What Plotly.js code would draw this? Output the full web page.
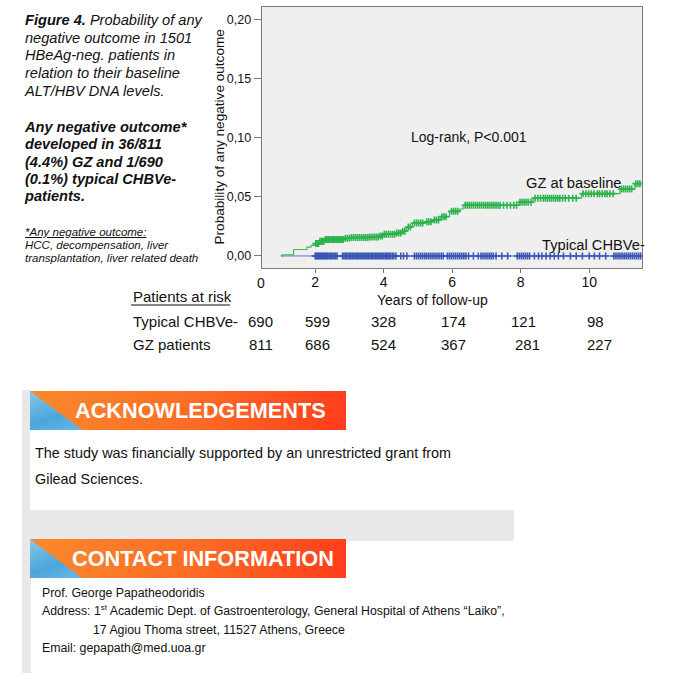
<!DOCTYPE html>
<html>
<head>
<meta charset="utf-8">
<script src="https://cdn.plot.ly/plotly-3.0.1.min.js"></script>
<style>
  html,body{margin:0;padding:0;background:#fff;}
  body{width:677px;height:686px;position:relative;overflow:hidden;font-family:"Liberation Sans",Arial,sans-serif;color:#111;}
  #chart{position:absolute;left:0;top:0;width:677px;height:686px;}
  .abs{position:absolute;}
  .banner{position:absolute;left:30px;width:316px;height:39px;overflow:hidden;
    background:linear-gradient(100deg,#f98a2b 0%,#fb6a25 55%,#ff3c1b 100%);}
  .banner .tri{position:absolute;left:0;top:0;width:52px;height:39px;
    background:linear-gradient(160deg,#8cc6e4 0%,#4aa6dc 60%,#6ab8e8 100%);
    clip-path:polygon(0 0,0 100%,100% 100%);}
  .banner .txt{position:absolute;top:0;height:39px;line-height:39px;color:#fff;font-weight:bold;font-size:21.7px;white-space:nowrap;}
</style>
</head>
<body>
<div id="chart"></div>

<div class="abs" style="left:25px;top:12px;font-style:italic;font-size:14.6px;line-height:17.7px;white-space:nowrap;">
<b>Figure 4.</b> Probability of any<br>negative outcome in 1501<br>HBeAg-neg. patients in<br>relation to their baseline<br>ALT/HBV DNA levels.
</div>
<div class="abs" style="left:25px;top:119px;font-style:italic;font-weight:bold;font-size:14.6px;line-height:17.3px;white-space:nowrap;">
Any negative outcome*<br>developed in 36/811<br>(4.4%) GZ and 1/690<br>(0.1%) typical CHBVe-<br>patients.
</div>
<div class="abs" style="left:25px;top:226px;font-style:italic;font-size:11.5px;line-height:13px;white-space:nowrap;">
<span style="text-decoration:underline">*Any negative outcome:</span><br>HCC, decompensation, liver<br>transplantation, liver related death
</div>

<!-- Acknowledgements block -->
<div class="abs" style="left:22px;top:390px;width:492px;height:151px;background:#e8e8e8;"></div>
<div class="abs" style="left:30px;top:390px;width:484px;height:120px;background:#fff;"></div>
<div class="abs" style="left:22px;top:541px;width:9px;height:132px;background:#e8e8e8;"></div>
<div class="banner" style="top:391px;"><div class="tri"></div><div class="txt" style="left:45px;">ACKNOWLEDGEMENTS</div></div>
<div class="abs" style="left:35px;top:440px;font-size:14.4px;line-height:26px;white-space:nowrap;">
The study was financially supported by an unrestricted grant from<br>Gilead Sciences.
</div>

<!-- Contact block -->
<div class="banner" style="top:539px;"><div class="tri"></div><div class="txt" style="left:42px;">CONTACT INFORMATION</div></div>
<div class="abs" style="left:42px;top:584px;font-size:12.3px;line-height:18.3px;white-space:nowrap;">
Prof. George Papatheodoridis<br>
Address: 1<sup style="font-size:8px;line-height:0;">st</sup> Academic Dept. of Gastroenterology, General Hospital of Athens “Laiko”,<br>
<span style="padding-left:51px;">17 Agiou Thoma street, 11527 Athens, Greece</span><br>
Email: gepapath@med.uoa.gr
</div>

<script>
// ---- data ----
const gzTime = [1.00,1.04,1.37,1.76,1.88,2.00,2.12,2.28,2.85,3.05,3.55,3.85,4.00,4.35,4.55,4.67,4.84,5.20,5.42,5.65,5.92,6.22,6.32,7.95,8.36,9.77,10.90,11.33,11.54];
const gzProb = [0,0.001,0.0055,0.0075,0.009,0.0105,0.0125,0.014,0.015,0.0157,0.016,0.017,0.0185,0.0195,0.021,0.0245,0.028,0.029,0.0305,0.0333,0.0378,0.0398,0.043,0.0455,0.049,0.0528,0.0568,0.0613,0.0613];
const gzCensor = [2.02,2.06,2.10,2.14,2.18,2.22,2.26,2.30,2.34,2.38,2.42,2.46,2.50,2.54,2.58,2.62,2.66,2.70,2.74,2.78,2.82,2.88,2.94,3.00,3.06,3.12,3.18,3.24,3.30,3.36,3.42,3.48,3.54,3.60,3.66,3.72,3.78,3.84,3.90,3.96,4.02,4.08,4.14,4.20,4.26,4.32,4.38,4.44,4.50,4.56,4.62,4.72,4.78,4.90,4.96,5.02,5.08,5.14,5.26,5.32,5.38,5.48,5.54,5.60,5.70,5.76,5.82,5.98,6.04,6.10,6.16,6.38,6.44,6.50,6.56,6.62,6.68,6.74,6.80,6.86,6.92,6.98,7.04,7.10,7.16,7.22,7.28,7.34,7.40,7.50,7.60,7.70,7.80,7.88,7.98,8.04,8.10,8.16,8.22,8.30,8.42,8.50,8.58,8.66,8.72,8.78,8.84,8.90,8.96,9.02,9.08,9.14,9.22,9.30,9.40,9.52,9.62,9.82,9.90,9.98,10.06,10.14,10.24,10.30,10.38,10.46,10.52,10.60,10.70,10.94,11.00,11.06,11.12,11.18,11.24,11.36,11.42,11.48];

const typTime = [1.00,11.54];
const typProb = [0,0];
const typCensor = [2.00,2.03,2.06,2.09,2.12,2.15,2.18,2.21,2.24,2.27,2.30,2.33,2.36,2.40,2.44,2.48,2.52,2.56,2.60,2.64,2.80,2.84,2.88,2.92,2.96,3.00,3.04,3.08,3.12,3.16,3.20,3.24,3.28,3.32,3.36,3.40,3.44,3.48,3.52,3.56,3.60,3.64,3.68,3.72,3.76,3.80,3.84,3.88,3.92,3.96,4.00,4.04,4.08,4.12,4.16,4.20,4.25,4.30,4.36,4.50,4.58,4.68,4.90,4.96,5.02,5.08,5.14,5.20,5.26,5.32,5.38,5.44,5.50,5.56,5.62,5.68,5.74,5.86,5.92,5.98,6.04,6.10,6.16,6.22,6.28,6.34,6.40,6.48,6.62,6.76,6.84,6.90,6.96,7.02,7.08,7.14,7.20,7.28,7.45,7.62,7.90,7.96,8.02,8.08,8.14,8.20,8.26,8.40,8.52,8.62,8.74,8.86,8.98,9.10,9.25,9.45,9.62,9.80,10.00,10.15,10.30,10.48,10.72,10.78,10.84,10.90,10.96,11.02,11.08,11.14,11.20,11.26,11.32,11.38,11.44,11.50];

const xTickVals = [2,4,6,8,10];
const yTickVals = [0,0.05,0.10,0.15,0.20];

const riskTimes = [0,2,4,6,8,10];
const riskGroups = ["Typical CHBVe-","GZ patients"];
const typicalAtRisk = [690,599,328,174,121,98];
const gzAtRisk = [811,686,524,367,281,227];

const plotLabels = {logrank:"Log-rank, P<0.001", gz:"GZ at baseline", typ:"Typical CHBVe-"};

// ---- helpers ----
function stepAt(times, probs, t){
  let v = probs[0];
  for(let i=0;i<times.length;i++){ if(times[i]<=t) v = probs[i]; }
  return v;
}

const GREEN = '#2db34b';
const BLUE = '#3a57b4';
const FONT = '"Liberation Sans", Arial, sans-serif';

// plot area in pixels: left 262, right 642, top 7, bottom 268
const L=262, R=642, T=7, B=268;
const XR=[0.45,11.54];
const px2x = p => (p-L)/(R-L);
const py2y = p => (B-p)/(B-T);
const t2x = t => (t-XR[0])/(XR[1]-XR[0]);   // data x -> paper x

const mk = c => ({symbol:'cross-thin', size:5, line:{color:c, width:1.6}});
const traces = [
  {x:typTime, y:typProb, mode:'lines', line:{color:'#5b74c4', width:1, shape:'hv'}, hoverinfo:'skip'},
  {x:typCensor, y:typCensor.map(t=>stepAt(typTime,typProb,t)), mode:'markers', marker:mk(BLUE), hoverinfo:'skip'},
  {x:gzTime, y:gzProb, mode:'lines', line:{color:'#3cbc58', width:1.2, shape:'hv'}, hoverinfo:'skip'},
  {x:gzCensor, y:gzCensor.map(t=>stepAt(gzTime,gzProb,t)), mode:'markers', marker:mk(GREEN), hoverinfo:'skip'}
];

const txt = (x,y,text,size,anchor,extra) => Object.assign({xref:'paper', yref:'paper', x:x, y:y, text:text,
   showarrow:false, xanchor:anchor||'center', yanchor:'middle', font:{size:size, color:'#111', family:FONT}}, extra||{});

const colShift = [14,2,0,1,3,6];
const annotations = [
  txt(px2x(219), 0.5, 'Probability of any negative outcome', 13.6, 'center', {textangle:-90}),
  txt(t2x(0), py2y(282.5), '0', 14, 'center', {xshift:14}),
  txt(px2x(469), py2y(137), plotLabels.logrank, 14),
  txt(px2x(574), py2y(182.5), plotLabels.gz, 14.7),
  txt(px2x(593), py2y(244.5), plotLabels.typ, 14.7),
  txt(px2x(432), py2y(300), 'Years of follow-up', 14),
  txt(px2x(131), py2y(296.5), 'Patients at risk', 15, 'left'),
  txt(px2x(131), py2y(321), riskGroups[0], 15, 'left'),
  txt(px2x(131), py2y(344), riskGroups[1], 15, 'left')
];
riskTimes.forEach((t,i)=>{
  annotations.push(txt(t2x(t), py2y(321), String(typicalAtRisk[i]), 15, 'center', {xshift:colShift[i]}));
  annotations.push(txt(t2x(t), py2y(344), String(gzAtRisk[i]), 15, 'center', {xshift:colShift[i]+(i>=4?4:0)}));
});

const layout = {
  width:677, height:686,
  margin:{l:L, r:677-R, t:T, b:686-B, pad:0},
  paper_bgcolor:'rgba(0,0,0,0)',
  plot_bgcolor:'#efefef',
  showlegend:false,
  separators:',.',
  font:{family:FONT, color:'#111'},
  xaxis:{range:XR, tickvals:xTickVals, ticktext:xTickVals.map(String), ticks:'outside', ticklen:4,
    ticklabelstandoff:-3,
    tickcolor:'#777', showgrid:false, zeroline:false, showline:true, mirror:true, linecolor:'#7a7a7a', linewidth:1.3,
    tickfont:{size:14, color:'#111', family:FONT}},
  yaxis:{range:[-0.0102,0.211], tickvals:yTickVals, tickformat:'.2f', ticks:'outside', ticklen:7,
    tickcolor:'#777', showgrid:false, zeroline:false, showline:true, mirror:true, linecolor:'#7a7a7a', linewidth:1.3,
    tickfont:{size:12.5, color:'#111', family:FONT}},
  annotations:annotations,
  shapes:[
    {type:'line', xref:'paper', yref:'paper', x0:px2x(131), x1:px2x(230), y0:py2y(305), y1:py2y(305),
     line:{color:'#111', width:1}}
  ]
};

Plotly.newPlot('chart', traces, layout, {staticPlot:true, displayModeBar:false});
</script>
</body>
</html>
